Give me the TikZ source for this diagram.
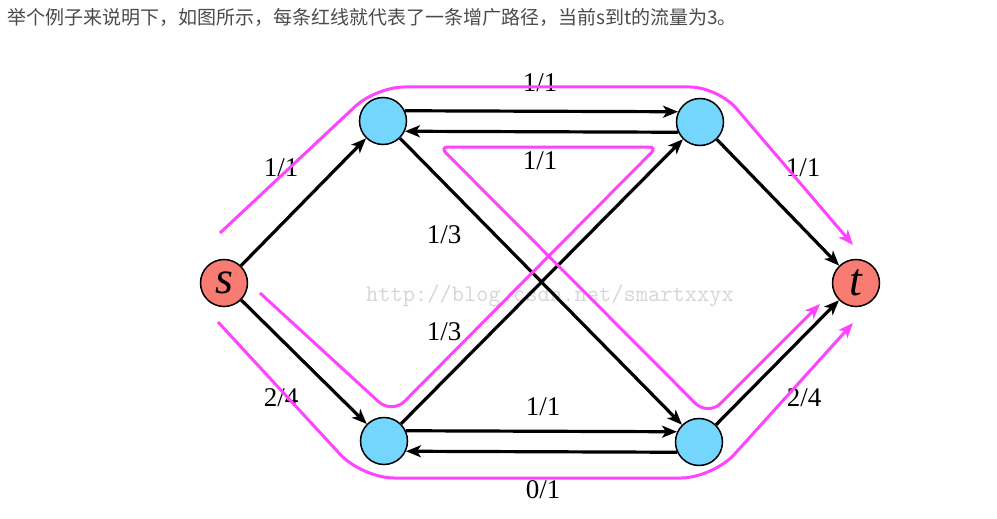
\documentclass[tikz,border=0pt]{standalone}
\usepackage{fontspec}
\setmainfont{Liberation Serif}
\newfontfamily\cjkfont{Noto Sans CJK SC}
\usetikzlibrary{arrows.meta}
\definecolor{nodeblue}{HTML}{75D6FD}
\definecolor{nodered}{HTML}{F87C72}
\definecolor{pathmag}{HTML}{FF44FF}
\definecolor{headgray}{HTML}{4A4A4A}
\definecolor{wmgray}{HTML}{D6D6D6}
\begin{document}
\begin{tikzpicture}[x=1pt,y=-1pt,
  vert/.style={circle,draw=black,line width=1.5pt,minimum size=47pt,inner sep=0pt},
  flow/.style={line width=3.2pt,-{Stealth[length=15pt,width=12pt,inset=4pt]}},
  aug/.style={pathmag,line width=3pt,-{Stealth[length=15pt,width=12pt,inset=4pt]}},
  lab/.style={font=\fontsize{27}{27}\selectfont,inner sep=0pt},
  term/.style={font=\fontsize{46}{46}\selectfont\itshape}]
\useasboundingbox (0,0) rectangle (997,519);
\node[anchor=base west,text=headgray,font=\cjkfont\fontsize{19}{19}\selectfont,inner sep=0pt] (head) at (7,25) {举个例子来说明下，如图所示，每条红线就代表了一条增广路径，当前s到t的流量为3。};
\node[text=wmgray,font=\ttfamily\fontsize{23.8}{24}\selectfont,inner sep=0pt] (wm) at (550,296) {http://blog.csdn.net/smartxxyx};

\node[vert,fill=nodered] (s) at (224,283) {};
\node[term] at (s) {s};
\node[vert,fill=nodered] (t) at (856,283) {};
\node[term] at (t) {t};
\node[vert,fill=nodeblue] (TL) at (383,121) {};
\node[vert,fill=nodeblue] (TR) at (700,122) {};
\node[vert,fill=nodeblue] (BL) at (384,441) {};
\node[vert,fill=nodeblue] (BR) at (699,442) {};

\draw[flow] (s) -- (TL);
\draw[flow] (s) -- (BL);
\draw[flow] (TL.25) -- (TR.155);
\draw[flow] (TR.205) -- (TL.335);
\draw[flow] (BL.25) -- (BR.155);
\draw[flow] (BR.205) -- (BL.335);
\draw[flow] (TL) -- (BR);
\draw[flow] (BL) -- (TR);
\draw[flow] (TR) -- (t);
\draw[flow] (BR) -- (t);

\node[lab] (l1) at (540,83) {1/1};
\node[lab] (l2) at (540,161) {1/1};
\node[lab] (l3) at (281,168) {1/1};
\node[lab] (l4) at (803,168) {1/1};
\node[lab] (l5) at (444,235) {1/3};
\node[lab] (l6) at (444,332) {1/3};
\node[lab] (l7) at (281,398) {2/4};
\node[lab] (l8) at (543,407) {1/1};
\node[lab] (l9) at (543,490) {0/1};
\node[lab] (l10) at (804,398) {2/4};

\draw[aug,rounded corners=28pt] (220,233) -- (376,87) -- (718,87) -- (853,245);
\draw[aug] (260,293) [rounded corners=18pt] -- (392,414) [rounded corners=8pt] -- (657,147) -- (440,147) [rounded corners=18pt] -- (708,416) -- (820,304);
\draw[aug,rounded corners=32pt] (218,322) -- (362,478) -- (713,478) -- (853,323);
\end{tikzpicture}
\end{document}
